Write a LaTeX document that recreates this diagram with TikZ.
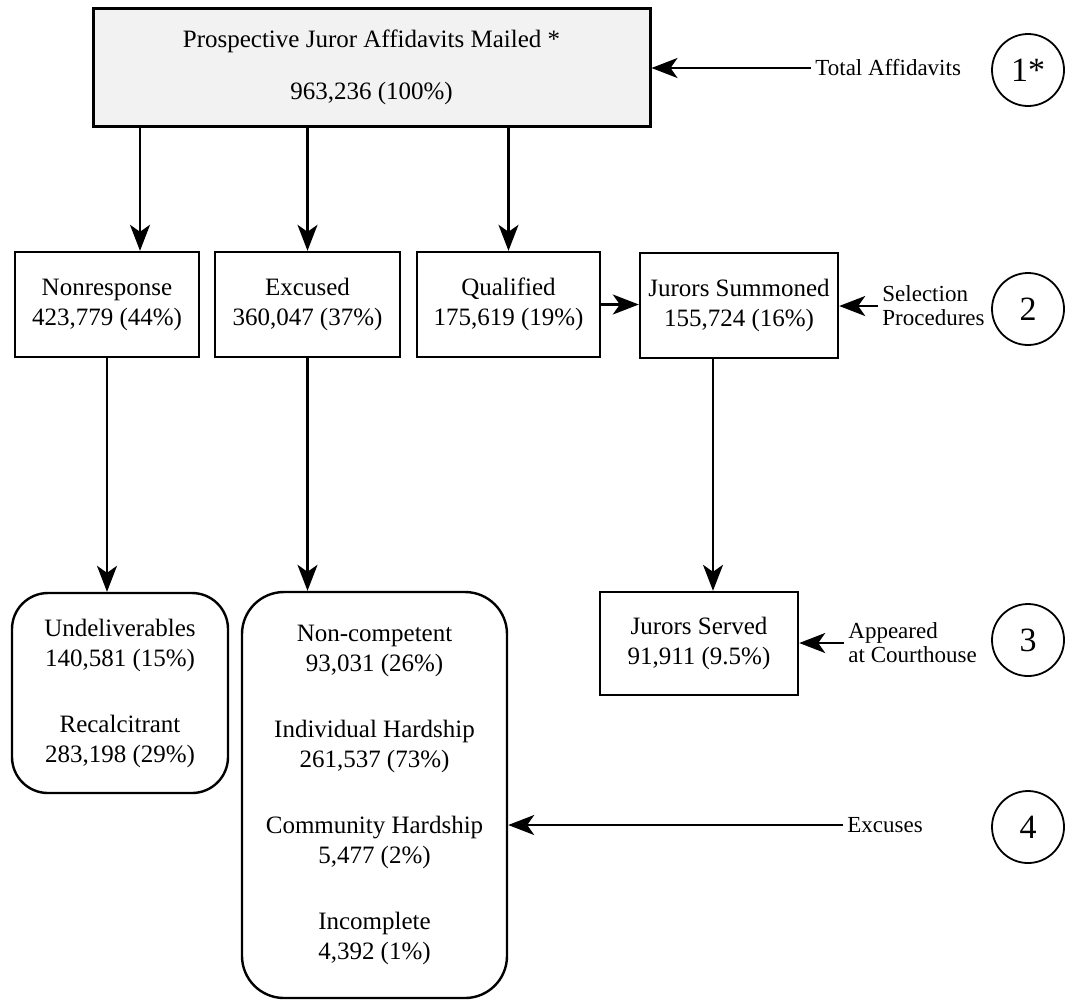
\documentclass[tikz,border=0pt]{standalone}
\usepackage{fontspec}
\setmainfont{Liberation Serif}
\usetikzlibrary{arrows.meta}

\begin{document}
\begin{tikzpicture}[x=0.5pt, y=-0.5pt,
		box/.style={draw, rectangle, line width=1.2pt, inner sep=0pt, align=center, font=\fontsize{12.5}{15}\selectfont},
		roundbox/.style={box, rounded corners=18pt},
		note/.style={inner sep=2pt, anchor=west, align=left, font=\fontsize{11.5}{12}\selectfont},
		num/.style={draw, circle, line width=0.9pt, minimum size=36pt, inner sep=0pt, font=\fontsize{17}{17}\selectfont},
		arr/.style={-{Stealth[length=13pt, width=10pt, inset=3.5pt]}, line width=1.1pt}]
	\useasboundingbox (0,0) rectangle (1069,1002);
	% top row
	\node[box, line width=1.5pt, fill=gray!10, minimum width=278.5pt, minimum height=59pt, font=\fontsize{12.5}{15}\selectfont] (mailed)at(371.5, 67) {Prospective Juror Affidavits Mailed *\\[11pt]963,236 (100\%)};
	\node[note] (total)at(811, 68) {Total Affidavits};
	\node[num] (n1)at(1028, 70) {1*};
	% second row
	\node[box, minimum width=92pt, minimum height=52.5pt] (nonresp)at(107, 304.5) {Nonresponse\\423,779 (44\%)};
	\node[box, minimum width=92.5pt, minimum height=52.5pt] (excused)at(307.5, 304.5) {Excused\\360,047 (37\%)};
	\node[box, minimum width=91.5pt, minimum height=52.5pt] (qualified)at(508.5, 304.5) {Qualified\\175,619 (19\%)};
	\node[box, minimum width=99pt, minimum height=52.5pt] (summoned)at(739, 305.5) {Jurors Summoned\\155,724 (16\%)};
	\node[note] (select)at(878, 306) {Selection\\Procedures};
	\node[num] (n2)at(1028, 309) {2};
	% bottom
	\node[roundbox, minimum width=108pt, minimum height=100pt] (undeliv)at(120, 693) {Undeliverables\\140,581 (15\%)\\[18pt]Recalcitrant\\283,198 (29\%)};
	\node[roundbox, rounded corners=21pt, minimum width=132.5pt, minimum height=203pt] (excuse)at(374.5, 795) {Non-competent\\93,031 (26\%)\\[18pt]Individual Hardship\\261,537 (73\%)\\[18pt]Community Hardship\\5,477 (2\%)\\[18pt]Incomplete\\4,392 (1\%)};
	\node[box, minimum width=99pt, minimum height=51.5pt] (served)at(699, 643.5) {Jurors Served\\91,911 (9.5\%)};
	\node[note] (appear)at(844, 643) {Appeared\\at Courthouse};
	\node[num] (n3)at(1028, 640) {3};
	\node[note] (excuses)at(843, 825) {Excuses};
	\node[num] (n4)at(1028, 827) {4};
	% arrows
	\draw[arr] ([xshift=16.5pt]nonresp.north |- mailed.south) -- ([xshift=16.5pt]nonresp.north);
	\draw[arr] (excused.north |- mailed.south) -- (excused.north);
	\draw[arr] (qualified.north |- mailed.south) -- (qualified.north);
	\draw[arr] (qualified.east) -- (qualified.east -| summoned.west);
	\draw[arr] (nonresp.south) -- (nonresp.south |- undeliv.north);
	\draw[arr] (excused.south) -- (excused.south |- excuse.north);
	\draw[arr] ([xshift=-13pt]summoned.south) -- ([xshift=-13pt]summoned.south |- served.north);
	\draw[arr] (total.west) -- (total.west -| mailed.east);
	\draw[arr] (select.west) -- (select.west -| summoned.east);
	\draw[arr] (appear.west) -- (appear.west -| served.east);
	\draw[arr] (excuses.west) -- (excuses.west -| excuse.east);
\end{tikzpicture}
\end{document}
